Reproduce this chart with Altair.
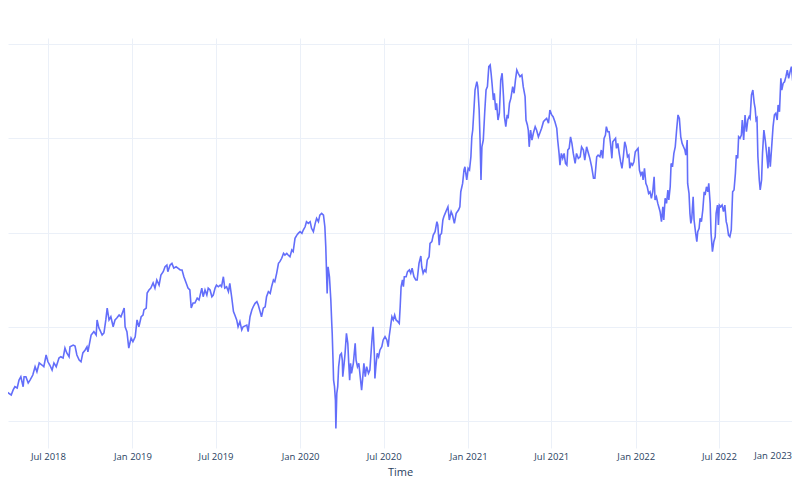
import altair as alt
import pandas as pd

# ---- data (day offsets from 2018-04-05, value) ----
days_a = [-17, -11, -7, 0, 7, 11, 15, 20, 24, 28, 33, 35, 39, 44, 48, 54, 59, 63, 68, 74,
          78, 83, 87, 91, 96, 100, 105, 111, 115, 120, 124, 128, 133, 135, 142, 146, 150, 155, 159, 163,
          168, 172, 174, 179, 181, 187, 192, 194, 198, 200, 205, 209, 213, 216, 220, 224, 229, 233, 237, 242,
          246, 253, 255, 259, 263, 268, 272, 277, 281, 285, 290, 294, 296, 301, 303, 307, 311, 316, 320, 324,
          329, 333, 338, 342, 346, 348, 353, 357, 361, 366, 370, 375, 379, 383, 388, 392, 396, 399, 403, 407,
          412, 416]
vals_a = [58.6, 57.7, 63.9, 65.1, 63.9, 66.5, 68.3, 67.6, 71.8, 73.6, 68.3, 73.6, 73.6, 70.3, 71.8, 74.5, 78.9, 76.2, 80.9, 79.8,
          78.9, 85.1, 81.5, 79.8, 77.1, 80.9, 78.9, 83.5, 84.2, 83.5, 88.8, 86.2, 84.2, 89.5, 90.4, 89.9, 85.1, 82.4, 81.5, 86.2,
          87.8, 89.5, 86.8, 93.1, 95.7, 97.5, 95.7, 103.7, 99.4, 98.4, 95.7, 96.8, 103.7, 110.0, 103.7, 105.4, 100.1, 103.7, 104.7, 106.3,
          105.4, 110.0, 100.1, 97.5, 88.8, 94.1, 92.2, 94.8, 103.7, 100.1, 105.4, 106.3, 109.0, 110.0, 118.0, 119.6, 120.6, 123.3, 120.6, 124.9,
          122.2, 127.5, 129.3, 131.9, 132.8, 129.3, 132.8, 133.7, 131.2, 131.9, 131.2, 130.2, 130.2, 126.6, 123.3, 120.6, 119.6, 110.0, 112.7, 112.7,
          115.3, 114.3]

days_b = [422, 425, 429, 433, 436, 440, 444, 447, 451, 454, 458, 462, 465, 469, 472, 476, 480, 483, 487, 491,
          494, 498, 501, 505, 509, 512, 520, 523, 527, 531, 534, 538, 542, 545, 549, 552, 556, 560, 563, 567,
          571, 574, 578, 581, 585, 589, 592, 596, 600, 603, 607, 610, 614, 618, 621, 625, 629, 632, 636, 640,
          643, 647, 650, 654, 658, 661, 665, 669, 672, 676, 679, 683, 687, 690]
vals_b = [120.6, 116.0, 119.6, 116.9, 120.6, 119.6, 116.0, 116.9, 120.6, 122.2, 121.3, 122.2, 121.3, 126.6, 120.6, 121.3, 118.7, 123.1, 116.0, 108.1,
          106.3, 103.7, 100.1, 102.8, 98.4, 100.1, 101.0, 97.5, 105.4, 109.0, 110.7, 112.5, 113.4, 111.6, 108.1, 105.4, 109.9, 110.7, 116.0, 118.7,
          117.8, 121.3, 124.9, 124.0, 128.4, 133.7, 134.6, 136.4, 139.0, 138.1, 139.0, 138.1, 137.2, 140.8, 139.9, 147.0, 148.7, 149.6, 150.5, 149.6,
          151.4, 153.1, 155.8, 154.9, 155.8, 152.3, 150.5, 154.9, 157.6, 155.8, 159.3, 160.2, 159.3, 153.1]

days_c = [692, 695, 697, 700, 703, 705, 706, 708, 709, 711, 713, 714, 716, 718, 720, 723, 726, 728, 729, 732,
          734, 737, 740, 742, 744, 746, 748, 752, 756, 758, 761, 764, 767, 770, 772, 775, 778, 781, 785, 788,
          790, 793, 795, 798, 799, 801, 804, 807, 810, 814, 817, 821, 825, 828, 830, 833, 836, 839, 842, 845,
          849, 852, 854, 856, 859, 861, 863, 867, 870, 874, 877, 880, 884, 888, 891, 895, 899, 901, 904, 907,
          910, 913, 917, 919, 923, 926, 930, 934, 936, 939, 941, 944, 947, 949, 952, 955, 958, 961, 965, 968,
          972, 976, 981, 984]
vals_c = [142.5, 117.8, 131.9, 126.6, 114.3, 101.9, 96.6, 80.7, 71.8, 68.3, 61.2, 46.2, 64.8, 68.3, 78.9, 85.1, 86.0, 82.4, 73.6, 80.7,
          86.0, 96.6, 91.3, 80.7, 71.8, 80.7, 75.4, 80.7, 91.3, 82.4, 78.9, 80.7, 73.6, 66.5, 71.8, 80.7, 73.6, 78.9, 75.4, 77.1,
          84.2, 94.8, 100.1, 84.2, 72.7, 78.9, 86.0, 84.2, 87.8, 89.5, 93.1, 94.8, 93.1, 89.5, 94.8, 100.1, 105.4, 103.7, 106.3, 103.7,
          102.8, 101.9, 110.7, 121.3, 124.9, 121.3, 126.6, 126.6, 129.3, 130.2, 128.4, 131.1, 126.6, 124.9, 124.9, 133.7, 137.6, 131.9, 128.4, 130.2,
          129.3, 135.5, 137.2, 144.3, 145.2, 148.7, 150.5, 155.8, 154.0, 143.4, 148.7, 149.6, 156.7, 158.4, 160.2, 162.0, 163.7, 156.7, 161.1, 159.3,
          154.9, 160.2, 162.0, 163.7]

days_d = [986, 990, 993, 995, 999, 1002, 1005, 1008, 1010, 1012, 1015, 1017, 1021, 1023, 1026, 1028, 1030, 1032, 1035, 1038,
          1041, 1044, 1047, 1050, 1052, 1054, 1057, 1059, 1062, 1064, 1067, 1070, 1073, 1076, 1079, 1081, 1084, 1087, 1089, 1092,
          1095, 1099, 1102, 1105, 1108, 1111, 1115, 1119, 1122, 1126, 1128, 1131, 1133, 1135, 1138, 1141, 1144, 1148, 1151, 1155,
          1158, 1162, 1166, 1169, 1173, 1177, 1180, 1184, 1187, 1191, 1195, 1197, 1200, 1202, 1205, 1208, 1211, 1214, 1217, 1219,
          1222, 1225, 1228, 1231, 1235, 1238, 1242, 1246, 1249, 1253, 1256, 1260, 1264]
vals_d = [171.7, 176.1, 183.2, 184.9, 177.9, 184.1, 183.2, 190.2, 200.8, 204.4, 216.8, 225.6, 230.0, 227.4, 215.0, 199.1, 177.9, 195.5, 199.1, 213.3,
          225.6, 227.4, 238.0, 238.9, 234.5, 229.2, 220.3, 223.9, 215.0, 218.6, 209.7, 213.3, 230.9, 234.5, 222.1, 211.5, 206.2, 212.4, 210.6, 218.6,
          221.2, 227.4, 223.9, 230.9, 236.2, 234.5, 232.7, 233.6, 227.4, 222.1, 209.7, 207.1, 204.4, 195.5, 204.4, 199.1, 202.7, 206.2, 204.4, 200.8,
          202.7, 205.3, 208.8, 209.7, 210.6, 208.0, 215.0, 212.4, 211.5, 208.8, 205.3, 199.1, 192.0, 185.8, 192.0, 189.4, 192.0, 186.7, 185.8, 193.8,
          194.7, 200.8, 197.3, 192.0, 186.7, 192.0, 189.4, 190.2, 195.5, 193.8, 188.5, 195.5, 192.0]

days_e = [1267, 1271, 1275, 1278, 1282, 1285, 1289, 1292, 1295, 1298, 1301, 1303, 1306, 1309, 1312, 1315, 1317, 1320, 1323, 1325,
          1328, 1331, 1334, 1337, 1340, 1343, 1346, 1349, 1352, 1354, 1357, 1360, 1363, 1366, 1369, 1372, 1375, 1378, 1381, 1383,
          1386, 1389, 1392, 1395, 1398, 1401, 1404, 1407, 1409, 1412, 1415, 1418, 1420, 1423, 1426, 1428, 1431, 1434, 1437, 1439,
          1442, 1444, 1447, 1450, 1453, 1456, 1459, 1462, 1465, 1468, 1471, 1474, 1476, 1479, 1480, 1483, 1485, 1487, 1489, 1492,
          1494, 1497, 1500, 1502, 1505, 1507, 1510, 1513, 1516, 1518, 1521, 1524, 1526, 1529, 1531, 1534, 1537, 1540, 1542, 1545,
          1547, 1549, 1552, 1555, 1558, 1561, 1564, 1566, 1569, 1572, 1575, 1578, 1581, 1584, 1586, 1589, 1591, 1594, 1597, 1599,
          1602, 1605, 1608, 1611, 1614, 1616, 1619, 1622, 1625, 1627, 1629, 1631, 1633, 1636, 1638, 1641, 1643, 1646, 1649, 1652,
          1655, 1657, 1660, 1663, 1666, 1669, 1672, 1675, 1677, 1680, 1683, 1685, 1688, 1691, 1694, 1697, 1700, 1703, 1706, 1709,
          1712, 1714, 1717, 1720, 1723, 1726]
vals_e = [189.4, 184.9, 178.8, 178.8, 190.2, 191.1, 190.2, 193.8, 189.4, 200.0, 201.7, 206.2, 203.5, 203.5, 197.3, 189.4, 198.2, 199.1, 200.0, 194.7,
          197.3, 192.0, 187.6, 184.1, 190.2, 198.2, 195.5, 190.2, 191.1, 184.1, 186.7, 185.8, 187.6, 192.9, 193.8, 194.7, 183.2, 180.5, 182.3, 177.9,
          184.1, 176.1, 174.3, 170.8, 171.7, 168.2, 171.7, 179.6, 167.3, 169.0, 165.5, 162.9, 161.1, 155.8, 163.7, 156.7, 168.2, 165.5, 172.6, 167.3,
          174.3, 186.7, 184.9, 192.0, 195.5, 204.4, 212.4, 210.6, 200.8, 197.3, 195.5, 193.8, 191.1, 199.1, 176.1, 170.8, 160.2, 154.9, 157.6, 169.0,
          156.7, 150.5, 145.2, 150.5, 152.3, 157.6, 155.8, 162.0, 171.7, 169.9, 174.3, 171.7, 176.1, 165.5, 149.6, 139.9, 145.2, 147.8, 160.2, 164.6,
          154.0, 164.6, 163.7, 164.6, 161.1, 164.6, 155.8, 154.0, 148.7, 147.8, 151.4, 171.7, 172.6, 181.4, 191.1, 189.4, 200.8, 200.0, 201.7, 209.7,
          199.1, 212.4, 203.5, 209.7, 211.5, 210.6, 223.0, 225.6, 218.6, 215.9, 209.7, 210.6, 190.2, 177.9, 172.6, 177.9, 192.0, 204.4, 199.1, 192.0,
          184.1, 195.5, 184.9, 195.5, 206.2, 212.4, 213.3, 209.7, 217.7, 214.1, 231.8, 225.6, 229.2, 230.0, 232.7, 236.2, 231.8, 235.3, 238.0, 230.0,
          236.2, 242.4, 237.1, 232.7, 238.0, 236.2]

tick_dates = ["2018-07-01", "2019-01-01", "2019-07-01", "2020-01-01", "2020-07-01",
              "2021-01-01", "2021-07-01", "2022-01-01", "2022-07-01"]
edge_label = ["Jan 2023"]
grid_values = [50, 100, 150, 200, 250]

days = days_a + days_b + days_c + days_d + days_e
vals = vals_a + vals_b + vals_c + vals_d + vals_e
assert len(days) == len(vals)

start = pd.Timestamp("2018-04-05")
df = pd.DataFrame({"Time": start + pd.to_timedelta(days, unit="D"), "value": vals})
edge_df = pd.DataFrame({"label": edge_label})

W, H = 784, 410
FONT = "Open Sans"
TXT = "#2a3f5f"
GRID = "#EBF0F8"


def dt(s):
    t = pd.Timestamp(s)
    return alt.DateTime(year=t.year, month=t.month, date=t.day, hours=t.hour)


x_scale = alt.Scale(domain=[dt("2018-04-05"), dt("2022-12-07 06:00")])

line = alt.Chart(df).mark_line(color="#636efa", strokeWidth=1.6, clip=True).encode(
    x=alt.X("Time:T", scale=x_scale,
            axis=alt.Axis(values=[dt(s) for s in tick_dates], format="%b %Y",
                          grid=True, gridColor=GRID, gridWidth=1,
                          domain=False, ticks=False, tickSize=0,
                          labelFont=FONT, labelFontSize=9.5, labelColor=TXT,
                          labelBaseline="alphabetic", labelPadding=11,
                          labelFlush=False, labelOverlap=False, labelBound=False,
                          title="Time", titleFont=FONT, titleFontSize=11,
                          titleFontWeight="normal", titleColor=TXT,
                          titleX=392, titleY=27.7, titleBaseline="alphabetic",
                          titleAlign="center")),
    y=alt.Y("value:Q", scale=alt.Scale(domain=[35.8, 253.2], nice=False, zero=False),
            axis=alt.Axis(values=grid_values, labels=False, ticks=False, domain=False,
                          title=None, grid=True, gridColor=GRID, gridWidth=1)),
)

# last tick label (Jan 2023) sits at the right edge of the visible area
edge = alt.Chart(edge_df).mark_text(font=FONT, fontSize=9.5, color=TXT,
                                    baseline="alphabetic", align="right").encode(
    x=alt.value(W),
    y=alt.value(H + 11),
    text="label:N",
)

chart = alt.layer(line, edge).properties(
    width=W, height=H,
    autosize=alt.AutoSizeParams(type="none"),
    padding={"left": 0, "right": 0, "top": 30, "bottom": 44},
).configure_view(stroke=None)

chart.save("out.html", embed_options={"renderer": "svg", "actions": False})
